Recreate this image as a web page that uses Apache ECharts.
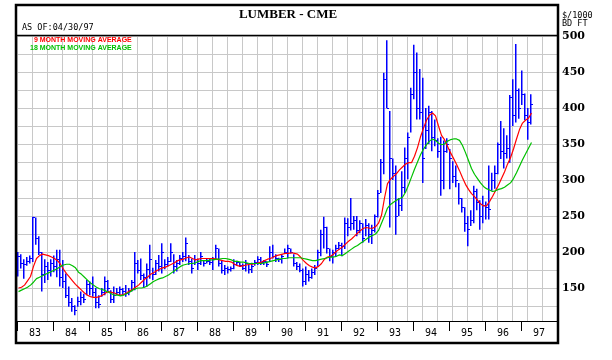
<!DOCTYPE html>
<html><head><meta charset="utf-8">
<script src="https://cdn.jsdelivr.net/npm/echarts@6/dist/echarts.min.js"></script>
<style>html,body{margin:0;padding:0;background:#fff}#c{width:612px;height:360px}</style>
</head><body><div id="c"></div>
<script>
// Year labels for the bottom strip (one band per year, Jan 1983 .. Dec 1997)
const yearLabels = ['83','84','85','86','87','88','89','90','91','92','93','94','95','96','97'];
// Right-hand price labels
const yTickLabels = [150,200,250,300,350,400,450,500];

// Monthly bars, Jan 1983 .. Apr 1997 ($/1000 bd ft)
const highs = [
200,197,190,193,195,249,248,222,200,190,186,190,195,203,203,189,170,152,136,126,138,145,142,161,159,166,150,140,150,166,161,147,152,150,152,150,
154,150,161,200,189,191,170,184,210,178,189,196,212,190,193,212,197,189,196,200,220,196,191,196,191,200,189,191,191,193,210,205,189,182,180,180,
190,188,186,184,189,184,185,189,194,193,189,187,208,210,197,192,197,205,210,205,197,186,184,177,180,175,177,182,203,231,249,235,205,203,210,214,
213,248,247,275,250,250,244,240,246,240,238,252,286,329,449,494,396,330,320,275,312,345,366,428,488,477,454,442,400,403,396,384,358,360,355,358,
343,326,320,296,275,262,250,258,292,288,272,278,270,320,310,320,352,382,372,362,418,440,489,427,452,420,400,419];
const lows = [
166,177,163,181,184,186,210,196,145,157,161,166,172,165,152,150,136,124,117,112,124,126,129,140,140,138,122,122,138,140,145,129,129,140,140,140,
138,140,145,147,170,161,150,152,163,161,168,173,170,176,180,186,170,173,182,186,187,182,170,182,175,182,180,184,182,175,189,180,170,168,170,173,
176,181,179,175,173,170,171,181,182,182,182,179,187,191,186,186,184,198,191,198,180,175,172,152,154,159,163,168,180,194,205,198,187,184,194,203,
194,204,222,230,231,222,226,213,222,213,211,227,248,282,308,400,234,300,224,250,257,282,301,366,412,384,384,296,343,350,340,347,331,278,287,338,
287,296,290,266,255,228,208,236,240,258,231,240,245,245,285,288,308,329,316,330,324,375,380,385,404,383,356,377];
const closes = [
195,185,183,188,192,248,220,200,170,180,175,185,180,190,165,160,140,130,125,120,132,138,135,155,150,145,130,128,145,160,150,135,140,145,148,146,
143,146,158,185,175,168,165,176,190,170,185,180,200,183,188,200,180,185,192,195,212,188,178,190,185,195,185,188,186,190,205,185,175,178,176,178,
183,186,182,178,185,176,180,186,190,186,187,183,200,195,192,190,195,200,205,200,185,180,175,160,170,165,172,178,200,225,235,205,195,200,205,210,
208,240,235,240,245,230,240,220,238,225,230,250,282,325,440,400,330,310,250,265,290,330,360,420,450,400,395,330,370,395,360,355,340,300,340,350,
330,305,300,275,262,240,232,245,285,270,250,265,262,260,300,310,350,340,338,345,415,390,425,400,420,390,380,405];

// 9-month moving average (red)
const ma9 = [
150,151,154,160,166,180,191,195,197,196,195,193,191,188,183,176,170,165,160,155,151,147,143,140,138,137,137,138,140,143,145,144,143,141,140,141,
143,146,148,151,154,158,162,165,169,171,174,176,178,179,181,183,185,188,189,190,192,193,191,189,190,191,191,191,191,191,190,189,188,187,187,186,
183,181,180,181,182,183,183,184,185,186,188,190,191,193,195,196,197,198,198,199,198,197,193,188,184,181,179,178,180,184,190,193,194,197,201,204,
207,211,215,218,222,226,230,233,234,233,233,235,240,251,275,295,301,305,309,314,318,322,324,324,333,345,360,372,383,390,393,389,375,362,356,347,
338,330,322,313,303,294,287,281,277,272,267,264,264,270,277,285,293,302,311,322,331,343,357,370,379,383,386,393];
// 18-month moving average (green)
const ma18 = [
145,147,149,151,154,158,163,165,167,169,171,173,175,177,180,182,183,183,181,178,172,169,165,161,157,154,151,149,148,146,144,142,140,140,139,140,
142,144,147,149,150,150,151,153,156,159,161,163,164,166,168,171,174,177,180,182,183,184,184,185,187,188,188,188,189,189,190,190,191,191,190,189,
187,187,186,186,185,184,184,184,184,184,185,186,187,188,189,190,191,191,192,192,192,192,192,191,190,189,188,188,189,190,191,192,193,193,194,196,
195,198,201,204,207,209,212,215,218,221,223,225,230,240,250,261,266,269,272,274,276,283,293,304,315,325,335,343,349,354,357,355,351,349,350,354,
356,357,357,355,348,338,327,316,308,302,296,291,288,286,284,285,287,288,290,293,296,302,310,319,328,336,344,352];

const barData = highs.map((h, i) => [i + 0.5, h, lows[i], closes[i]]);
const ma9Data = ma9.map((v, i) => [i + 0.5, v]);
const ma18Data = ma18.map((v, i) => [i + 0.5, v]);

const BLUE = '#0000ff', RED = '#ff0000', GREEN = '#00c000', GRID = '#c8c8c8';

function renderBar(params, api) {
  const x = api.value(0);
  const pH = api.coord([x, api.value(1)]);
  const pL = api.coord([x, api.value(2)]);
  const pC = api.coord([x, api.value(3)]);
  const px = Math.floor(pH[0]) - 0.25;
  const cy = Math.round(pC[1]) + 0.5;
  return {
    type: 'group',
    children: [
      {type: 'line', shape: {x1: px, y1: pH[1], x2: px, y2: pL[1]}, style: {stroke: BLUE, lineWidth: 1.5}},
      {type: 'line', shape: {x1: px, y1: cy, x2: px + 2.25, y2: cy}, style: {stroke: BLUE, lineWidth: 1}}
    ]
  };
}

const chart = echarts.init(document.getElementById('c'), null, {renderer: 'canvas'});
chart.setOption({
  animation: false,
  backgroundColor: '#ffffff',
  grid: {left: 17, right: 55, top: 36, bottom: 36, containLabel: false},
  xAxis: [
    {type: 'value', min: 0, max: 180, interval: 5,
     axisLine: {show: false}, axisTick: {show: false}, axisLabel: {show: false},
     splitLine: {show: true, lineStyle: {color: GRID, width: 1}}},
    {type: 'category', data: yearLabels, boundaryGap: true, position: 'bottom', offset: -3, z: 20,
     axisLine: {show: true, lineStyle: {color: '#000', width: 1}},
     axisTick: {show: true, interval: 0, length: 10, lineStyle: {color: '#000', width: 1}},
     axisLabel: {interval: 0, margin: 7, color: '#000', fontFamily: 'DejaVu Sans Mono', fontSize: 10},
     splitLine: {show: false}}
  ],
  yAxis: {type: 'value', position: 'right', min: 100, max: 500, interval: 25,
    axisLine: {show: false}, axisTick: {show: false},
    axisLabel: {margin: 5, color: '#000', fontFamily: 'DejaVu Serif', fontWeight: 'bold', fontSize: 11,
      formatter: v => yTickLabels.indexOf(v) >= 0 ? String(v) : ''},
    splitLine: {show: true, lineStyle: {color: GRID, width: 1}}},
  legend: {
    data: [
      {name: '9 MONTH MOVING AVERAGE', textStyle: {color: RED}},
      {name: '18 MONTH MOVING AVERAGE', textStyle: {color: GREEN}}
    ],
    orient: 'vertical', left: 25, top: 37, icon: 'none', itemWidth: 0, itemHeight: 7, itemGap: 1,
    selectedMode: false, padding: 0,
    formatter: n => n.charAt(0) === '9' ? '\u2007' + n : n,
    textStyle: {fontFamily: 'Liberation Sans', fontSize: 7, fontWeight: 'bold', lineHeight: 7}
  },
  series: [
    {type: 'custom', name: 'LUMBER', xAxisIndex: 0, yAxisIndex: 0, data: barData, renderItem: renderBar, z: 3,
     encode: {x: 0, y: [1, 2, 3]}},
    {type: 'line', name: '9 MONTH MOVING AVERAGE', xAxisIndex: 0, data: ma9Data, showSymbol: false, z: 4,
     lineStyle: {color: RED, width: 1.2}, itemStyle: {color: RED}},
    {type: 'line', name: '18 MONTH MOVING AVERAGE', xAxisIndex: 0, data: ma18Data, showSymbol: false, z: 4,
     lineStyle: {color: GREEN, width: 1.2}, itemStyle: {color: GREEN}}
  ],
  graphic: [
    {type: 'rect', z: 10, silent: true, shape: {x: 17, y: 321.5, width: 540, height: 21}, style: {fill: '#fff'}},
    {type: 'text', z: 100, x: 288, y: 15, style: {text: 'LUMBER - CME', font: 'bold 13px "Liberation Serif"', fill: '#000', textAlign: 'center', textVerticalAlign: 'middle'}},
    {type: 'text', z: 100, x: 22, y: 28, style: {text: 'AS OF:04/30/97', font: '8.5px "DejaVu Sans Mono"', fill: '#000', textAlign: 'left', textVerticalAlign: 'middle'}},
    {type: 'text', z: 100, x: 562, y: 16, style: {text: '$/1000', font: '8.5px "DejaVu Sans Mono"', fill: '#000', textAlign: 'left', textVerticalAlign: 'middle'}},
    {type: 'text', z: 100, x: 562, y: 24, style: {text: 'BD FT', font: '8.5px "DejaVu Sans Mono"', fill: '#000', textAlign: 'left', textVerticalAlign: 'middle'}},
    {type: 'line', z: 100, silent: true, shape: {x1: 16, y1: 35.5, x2: 558, y2: 35.5}, style: {stroke: '#000', lineWidth: 1.5}},
    {type: 'rect', z: 100, silent: true, shape: {x: 16, y: 5, width: 542, height: 338}, style: {fill: 'none', stroke: '#000', lineWidth: 2.5}}
  ]
});
</script>
</body></html>
